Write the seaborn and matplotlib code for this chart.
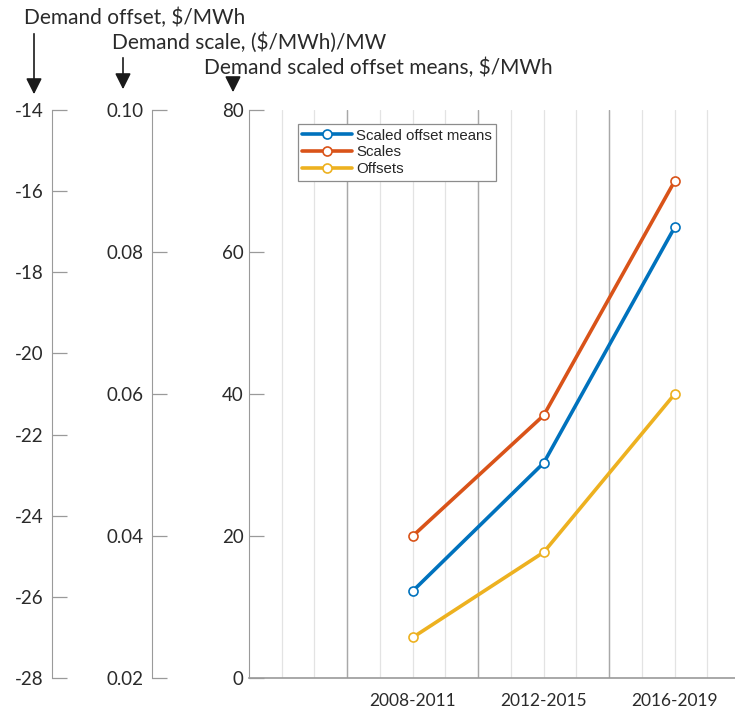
import numpy as np
import pandas as pd
import seaborn as sns
import matplotlib.pyplot as plt

# values
categories = ['2008-2011', '2012-2015', '2016-2019']
scaled_offset_means = [12.25, 30.3, 63.5]   # $/MWh
scales = [0.040, 0.057, 0.090]              # ($/MWh)/MW
offsets = [-27.0, -24.9, -21.0]             # $/MWh

sns.set_style('white')
plt.rcParams['font.family'] = ['Lato', 'DejaVu Sans']
plt.rcParams['axes.unicode_minus'] = False

blue, red, yellow = '#0072BD', '#D95319', '#EDB120'
spine_grey = '#9a9a9a'
text_col = '#2a2a2a'

x = np.arange(len(categories))
df = pd.DataFrame({'x': x, 'means': scaled_offset_means,
                   'scales': scales, 'offsets': offsets})

fig = plt.figure(figsize=(7.35, 7.13), dpi=100)
ax = fig.add_axes([249 / 735, 35 / 713, 486 / 735, 568 / 713])
ax_scale = ax.twinx()
ax_off = ax.twinx()

line_kw = dict(marker='o', markersize=6.5, markerfacecolor='white',
               linewidth=2.6, markeredgewidth=1.2)
sns.lineplot(data=df, x='x', y='means', ax=ax, color=blue,
             markeredgecolor=blue, label='Scaled offset means', legend=False, **line_kw)
sns.lineplot(data=df, x='x', y='scales', ax=ax_scale, color=red,
             markeredgecolor=red, label='Scales', legend=False, **line_kw)
sns.lineplot(data=df, x='x', y='offsets', ax=ax_off, color=yellow,
             markeredgecolor=yellow, label='Offsets', legend=False, **line_kw)

xmin, xmax = -1.25, 2.46
ax.set_xlim(xmin, xmax)
ax.set_ylim(0, 80)
ax_scale.set_ylim(0.02, 0.10)
ax_off.set_ylim(-28, -14)

# vertical grid: light lines every quarter step, darker at category boundaries
for g in np.arange(-1.0, xmax, 0.25):
    ax.axvline(g, color='#e3e3e3', lw=0.9, zorder=0)
for g in np.arange(-0.5, xmax, 1.0):
    ax.axvline(g, color='#a8a8a8', lw=1.0, zorder=0)

ax.set_xticks(x)
ax.set_xticklabels(categories)
ax.set_xticks([-0.77, -0.08, 0.59, 1.28, 1.97], minor=True)
ax.tick_params(axis='x', which='major', length=0, pad=11, labelsize=12.5, labelcolor=text_col)
ax.tick_params(axis='x', which='minor', direction='in', length=5, color=spine_grey, width=1)
ax.set_xlabel('')
ax.set_ylabel('')
ax.set_yticks([0, 20, 40, 60, 80])
ax.tick_params(axis='y', direction='in', length=11, color=spine_grey, width=0.9,
               pad=4, labelsize=13.5, labelcolor=text_col)

for a in (ax, ax_scale, ax_off):
    for s in ('top', 'right'):
        a.spines[s].set_visible(False)
    a.spines['left'].set_color(spine_grey)
    a.spines['bottom'].set_color(spine_grey)
for a in (ax_scale, ax_off):
    a.spines['bottom'].set_visible(False)
    a.yaxis.set_ticks_position('left')
    a.yaxis.set_label_position('left')
    a.set_ylabel('')
ax.spines['bottom'].set_linewidth(1.2)

ax_scale.spines['left'].set_position(('axes', -97 / 486))
ax_scale.set_yticks([0.02, 0.04, 0.06, 0.08, 0.10])
ax_scale.set_yticklabels(['0.02', '0.04', '0.06', '0.08', '0.10'])
ax_off.spines['left'].set_position(('axes', -197 / 486))
ax_off.set_yticks([-28, -26, -24, -22, -20, -18, -16, -14])
for a in (ax_scale, ax_off):
    a.tick_params(axis='y', direction='in', length=11, color=spine_grey, width=0.9,
                  pad=6, labelsize=13.5, labelcolor=text_col)

# legend gathering all three series
handles, labels = [], []
for a in (ax, ax_scale, ax_off):
    h, l = a.get_legend_handles_labels()
    handles += h
    labels += l
leg = ax_off.legend(handles, labels, loc='upper left', bbox_to_anchor=(0.1, 0.975),
                    borderaxespad=0, fancybox=False, framealpha=1, edgecolor='#8c8c8c',
                    handlelength=3.3, handletextpad=0.3, labelspacing=0.18,
                    borderpad=0.3, prop={'family': 'Liberation Sans', 'size': 10.8})
leg.get_frame().set_linewidth(0.9)

# axis titles with arrows
titles = ['Demand offset, $/MWh', 'Demand scale, ($/MWh)/MW',
          'Demand scaled offset means, $/MWh']
title_pos = [(24, 18), (112, 43), (204, 68)]
arrows = [(34, 31, 97), (123, 55, 92), (233, 80, 95)]
for t, (tx, ty) in zip(titles, title_pos):
    fig.text(tx / 735, 1 - ty / 713, t, ha='left', va='center',
             fontsize=15, color=text_col)
for axp, y0, y1 in arrows:
    fig.add_artist(plt.matplotlib.patches.FancyArrowPatch(
        (axp / 735, 1 - y0 / 713), (axp / 735, 1 - y1 / 713),
        transform=fig.transFigure, arrowstyle='-|>,head_length=6,head_width=3',
        color='#1a1a1a', lw=1.2, mutation_scale=1.6))

fig.savefig('out.png', dpi=100)
